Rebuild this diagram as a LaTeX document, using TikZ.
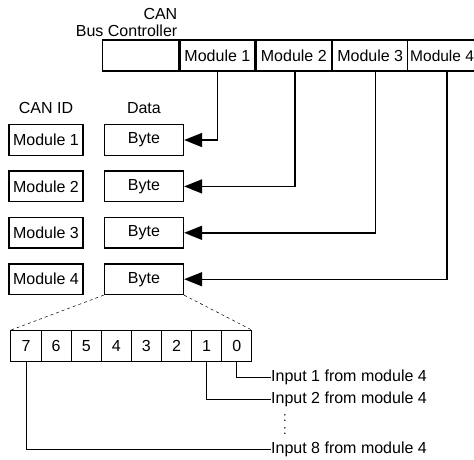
\documentclass[tikz,border=0pt]{standalone}
\usepackage{fontspec}
\setmainfont{Liberation Sans}
\usepackage{tikz}
\usetikzlibrary{arrows.meta,positioning}

\begin{document}
\begin{tikzpicture}[x=1pt, y=-1pt,
	font=\fontsize{16}{17.5}\selectfont,
	cellbox/.style={draw, line width=1.4pt, minimum height=31pt, inner sep=0pt},
	idbox/.style={draw, line width=1.4pt, minimum width=74pt, minimum height=30.5pt, inner sep=0pt},
	databox/.style={draw, line width=1.4pt, minimum width=79pt, minimum height=30.5pt, inner sep=0pt},
	bitbox/.style={draw, line width=1pt, minimum width=30.1pt, minimum height=30.5pt, inner sep=0pt},
	head/.style={inner sep=0pt},
	feed/.style={line width=1.4pt, -{Triangle[length=18pt, width=14pt]}},
	tap/.style={line width=0.7pt}]
	\useasboundingbox (0,0) rectangle (474,459);

	% bus controller with its module slots
	\node[cellbox, minimum width=76pt] (ctrl) at (140.5,55.5) {};
	\node[cellbox, minimum width=75pt] (m1) [right=0pt of ctrl] {Module 1};
	\node[cellbox, minimum width=75pt] (m2) [right=0pt of m1] {Module 2};
	\node[cellbox, minimum width=75pt] (m3) [right=0pt of m2] {Module 3};
	\node[cellbox, draw=none, minimum width=66pt,
		font=\fontsize{15.5}{17}\selectfont] (m4) [right=0pt of m3] {Module 4};
	\draw[line width=1.4pt] ([yshift=-0.7pt]m3.north east) -- ++(80,0);
	\draw[line width=1.4pt] ([yshift=0.7pt]m3.south east) -- ++(80,0);
	\node[head, align=right, anchor=south east] (busname) at (177.5,37) {CAN\\Bus Controller};

	% CAN ID and data table
	\node[idbox] (id1) at (46,140) {Module 1};
	\node[idbox] (id2) [below=14.5pt of id1] {Module 2};
	\node[idbox] (id3) [below=14.5pt of id2] {Module 3};
	\node[idbox] (id4) [below=14.5pt of id3] {Module 4};
	\node[databox] (d1) [right=20pt of id1] {Byte};
	\node[databox] (d2) [right=20pt of id2] {Byte};
	\node[databox] (d3) [right=20pt of id3] {Byte};
	\node[databox] (d4) [right=20pt of id4] {Byte};
	\node[head] (idhead) [above=10pt of id1] {CAN ID};
	\node[head] (datahead) [above=10pt of d1] {Data};

	\draw[feed] (m1.south) |- (d1.east);
	\draw[feed] ([xshift=1pt]m2.south) |- (d2.east);
	\draw[feed] ([xshift=5.5pt]m3.south) |- (d3.east);
	\draw[feed] ([xshift=5pt]m4.south) |- (d4.east);

	% bits of the module 4 byte
	\foreach \b [count=\i from 0] in {7,6,5,4,3,2,1,0}
		\node[bitbox] (bit\b) at (26+30.1*\i,346) {\b};
	\draw[dashed, line width=0.5pt] (d4.south west) -- (bit7.north west);
	\draw[dashed, line width=0.5pt] (d4.south east) -- (bit0.north east);

	\node[head, anchor=west] (in1) at (271,377) {Input 1 from module 4};
	\node[head, anchor=west] (in2) at (271,399) {Input 2 from module 4};
	\node[head, anchor=west] (in8) at (271,449) {Input 8 from module 4};
	\node[head, align=center, font=\fontsize{13}{13}\selectfont] (gap) at (285,425) {:\\:};
	\draw[tap] (bit0.south) |- (in1.west);
	\draw[tap] (bit1.south) |- (in2.west);
	\draw[tap] (bit7.south) |- (in8.west);
\end{tikzpicture}
\end{document}
